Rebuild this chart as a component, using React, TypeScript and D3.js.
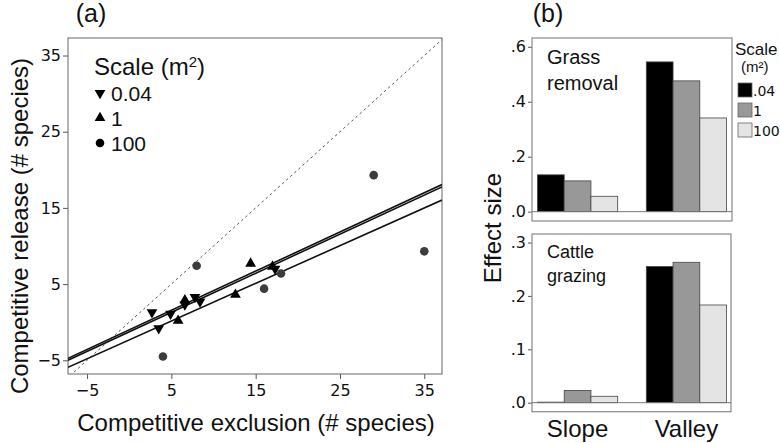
import React from 'react';
import * as d3 from 'd3';

// panel (a) points: [exclusion, release]
const small = [[2.7, 1.3], [3.5, -0.8], [4.9, 1.1], [6.6, 2.3], [7.8, 3.3], [8.4, 2.7], [17.3, 7.0]];
const medium = [[5.8, 0.2], [6.6, 2.9], [12.6, 3.6], [14.4, 7.7], [17.0, 7.3]];
const large = [[4.0, -4.5], [8.0, 7.4], [16.0, 4.4], [18.0, 6.4], [29.0, 19.3], [35.0, 9.3]];
// fitted lines [intercept, slope]
const fits = [[-1.01, 0.514], [-1.27, 0.513], [-2.33, 0.495]];
const xTicksA = [-5, 5, 15, 25, 35];
const yTicksA = [-5, 5, 15, 25, 35];
const legendA = ['0.04', '1', '100'];

// panel (b)
const sites = ['Slope', 'Valley'];
const scales = ['.04', '1', '100'];
const grassRemoval = [[0.134, 0.112, 0.056], [0.545, 0.476, 0.341]];
const cattleGrazing = [[0.001, 0.023, 0.012], [0.255, 0.263, 0.183]];
const barColors = ['#000000', '#989898', '#e4e4e4'];

const W = 780;
const H = 443;
const tickFont = 'DejaVu Sans, Verdana, sans-serif';
const labelFont = 'Liberation Sans, Arial, sans-serif';

const renderChart = (svg: any) => {
  svg.selectAll('*').remove();

  // ---------- panel (a) ----------
  const a = { left: 68, right: 442, top: 38, bottom: 374 };
  const x = d3.scaleLinear().domain([-7.26, 37.1]).range([a.left, a.right]);
  const y = d3.scaleLinear().domain([-6.8, 37.3]).range([a.bottom, a.top]);

  const ga = svg.append('g');
  ga.append('defs').append('clipPath').attr('id', 'clipA')
    .append('rect').attr('x', a.left).attr('y', a.top)
    .attr('width', a.right - a.left).attr('height', a.bottom - a.top);

  const xAxis = ga.append('g')
    .attr('transform', `translate(0, ${a.bottom})`)
    .call(d3.axisBottom(x).tickValues(xTicksA).tickSize(5).tickPadding(6).tickFormat(d3.format('d')));
  const yAxis = ga.append('g')
    .attr('transform', `translate(${a.left}, 0)`)
    .call(d3.axisLeft(y).tickValues(yTicksA).tickSize(5).tickPadding(2).tickFormat(d3.format('d')));
  [xAxis, yAxis].forEach((g: any) => {
    g.select('.domain').remove();
    g.selectAll('line').attr('stroke', '#555');
    g.selectAll('text').attr('font-family', tickFont).attr('font-size', 16).attr('fill', '#111');
  });

  ga.append('rect')
    .attr('x', a.left).attr('y', a.top)
    .attr('width', a.right - a.left).attr('height', a.bottom - a.top)
    .attr('fill', 'none').attr('stroke', '#666').attr('stroke-width', 1);

  const plot = ga.append('g').attr('clip-path', 'url(#clipA)');

  // 1:1 line
  plot.append('line')
    .attr('x1', x(-8)).attr('y1', y(-8)).attr('x2', x(38)).attr('y2', y(38))
    .attr('stroke', '#555').attr('stroke-width', 1).attr('stroke-dasharray', '2.5,3');

  fits.forEach(([b0, b1]) => {
    plot.append('line')
      .attr('x1', x(-7.26)).attr('y1', y(b0 + b1 * -7.26))
      .attr('x2', x(37.1)).attr('y2', y(b0 + b1 * 37.1))
      .attr('stroke', '#111').attr('stroke-width', 1.6);
  });

  const tri = d3.symbol().type(d3.symbolTriangle).size(50);
  plot.selectAll('.down').data(small).join('path')
    .attr('d', tri())
    .attr('transform', (d: number[]) => `translate(${x(d[0])},${y(d[1])}) rotate(180)`)
    .attr('fill', '#000');
  plot.selectAll('.up').data(medium).join('path')
    .attr('d', tri())
    .attr('transform', (d: number[]) => `translate(${x(d[0])},${y(d[1])})`)
    .attr('fill', '#000');
  plot.selectAll('.dot').data(large).join('circle')
    .attr('cx', (d: number[]) => x(d[0])).attr('cy', (d: number[]) => y(d[1]))
    .attr('r', 4.3).attr('fill', '#3c3c3c');

  // legend
  ga.append('text').attr('x', 94).attr('y', 75)
    .attr('font-family', labelFont).attr('font-size', 24).attr('fill', '#111')
    .html('Scale (m<tspan dy="-8" font-size="15">2</tspan><tspan dy="8">)</tspan>');
  legendA.forEach((lab, i) => {
    const ly = 93 + i * 25;
    const sym = i === 2 ? d3.symbol().type(d3.symbolCircle).size(58) : tri;
    ga.append('path').attr('d', sym())
      .attr('transform', `translate(100,${ly}) ${i === 0 ? 'rotate(180)' : ''}`)
      .attr('fill', '#000');
    ga.append('text').attr('x', 111).attr('y', ly + 8)
      .attr('font-family', labelFont).attr('font-size', 21).attr('fill', '#111').text(lab);
  });

  ga.append('text').attr('x', 91).attr('y', 22).attr('text-anchor', 'middle')
    .attr('font-family', labelFont).attr('font-size', 25).attr('fill', '#111').text('(a)');
  ga.append('text').attr('x', 256).attr('y', 431).attr('text-anchor', 'middle')
    .attr('font-family', labelFont).attr('font-size', 24).attr('fill', '#111')
    .text('Competitive exclusion (# species)');
  ga.append('text')
    .attr('transform', 'translate(28, 226) rotate(-90)').attr('text-anchor', 'middle')
    .attr('font-family', labelFont).attr('font-size', 24).attr('fill', '#111')
    .text('Competitive release (# species)');

  // ---------- panel (b) ----------
  const bx = d3.scaleBand().domain(sites).range([532, 732]).paddingInner(0.263).paddingOuter(0.05);
  const inner = d3.scaleBand().domain(scales).range([0, bx.bandwidth()]);

  const drawPanel = (vals: number[][], box: any, yDomain: number[], ticks: number[], title: string[], fs: number) => {
    const g = svg.append('g');
    const yb = d3.scaleLinear().domain(yDomain).range([box.bottom, box.top]);
    const ax = g.append('g').attr('transform', `translate(${box.left}, 0)`)
      .call(d3.axisLeft(yb).tickValues(ticks).tickSize(4).tickPadding(2)
        .tickFormat((d: any) => d3.format('.1f')(d).replace(/^0/, '')));
    ax.select('.domain').remove();
    ax.selectAll('line').attr('stroke', '#555');
    ax.selectAll('text').attr('font-family', tickFont).attr('font-size', 16).attr('fill', '#111');

    g.append('rect').attr('x', box.left).attr('y', box.top)
      .attr('width', box.right - box.left).attr('height', box.bottom - box.top)
      .attr('fill', 'none').attr('stroke', '#888').attr('stroke-width', 1.2);

    sites.forEach((s, i) => {
      g.selectAll(`.bar${i}`).data(vals[i]).join('rect')
        .attr('x', (_: any, j: number) => (bx(s) as number) + (inner(scales[j]) as number))
        .attr('width', inner.bandwidth())
        .attr('y', (d: number) => yb(d))
        .attr('height', (d: number) => yb(0) - yb(d))
        .attr('fill', (_: any, j: number) => barColors[j])
        .attr('stroke', '#444').attr('stroke-width', 0.8);
    });
    g.append('line').attr('x1', box.left).attr('x2', box.right)
      .attr('y1', yb(0)).attr('y2', yb(0)).attr('stroke', '#777').attr('stroke-width', 1);

    title.forEach((t, k) => {
      g.append('text').attr('x', box.left + 15).attr('y', box.top + fs + 6 + k * (fs + 6))
        .attr('font-family', labelFont).attr('font-size', fs).attr('fill', '#111').text(t);
    });
  };

  drawPanel(grassRemoval, { left: 532, right: 732, top: 38, bottom: 221 }, [-0.034, 0.632],
    [0, 0.2, 0.4, 0.6], ['Grass', 'removal'], 20);
  drawPanel(cattleGrazing, { left: 532, right: 731, top: 234, bottom: 411.7 }, [-0.0169, 0.316],
    [0, 0.1, 0.2, 0.3], ['Cattle', 'grazing'], 18);

  sites.forEach(s => {
    svg.append('text').attr('x', (bx(s) as number) + bx.bandwidth() / 2).attr('y', 437)
      .attr('text-anchor', 'middle').attr('font-family', labelFont).attr('font-size', 24)
      .attr('fill', '#111').text(s);
  });

  svg.append('text').attr('x', 548).attr('y', 22).attr('text-anchor', 'middle')
    .attr('font-family', labelFont).attr('font-size', 25).attr('fill', '#111').text('(b)');
  svg.append('text')
    .attr('transform', 'translate(501, 228) rotate(-90)').attr('text-anchor', 'middle')
    .attr('font-family', labelFont).attr('font-size', 24).attr('fill', '#111').text('Effect size');

  // legend (b)
  svg.append('text').attr('x', 735).attr('y', 55)
    .attr('font-family', labelFont).attr('font-size', 17).attr('fill', '#111').text('Scale');
  svg.append('text').attr('x', 741).attr('y', 72)
    .attr('font-family', labelFont).attr('font-size', 15).attr('fill', '#111').text('(m²)');
  scales.forEach((s, i) => {
    const ly = 83 + i * 20;
    svg.append('rect').attr('x', 738).attr('y', ly).attr('width', 14).attr('height', 14)
      .attr('fill', barColors[i]).attr('stroke', '#666').attr('stroke-width', 0.8);
    svg.append('text').attr('x', 753).attr('y', ly + 13)
      .attr('font-family', tickFont).attr('font-size', 14).attr('fill', '#111').text(s);
  });
};

const App: React.FC = () => {
  const ref = React.useRef<SVGSVGElement>(null);
  React.useEffect(() => {
    renderChart(d3.select(ref.current));
  }, []);
  return (
    <svg
      ref={ref}
      width={W}
      height={H}
      style={{ position: 'absolute', left: 0, top: 0, background: '#fff' }}
    />
  );
};

export default App;
